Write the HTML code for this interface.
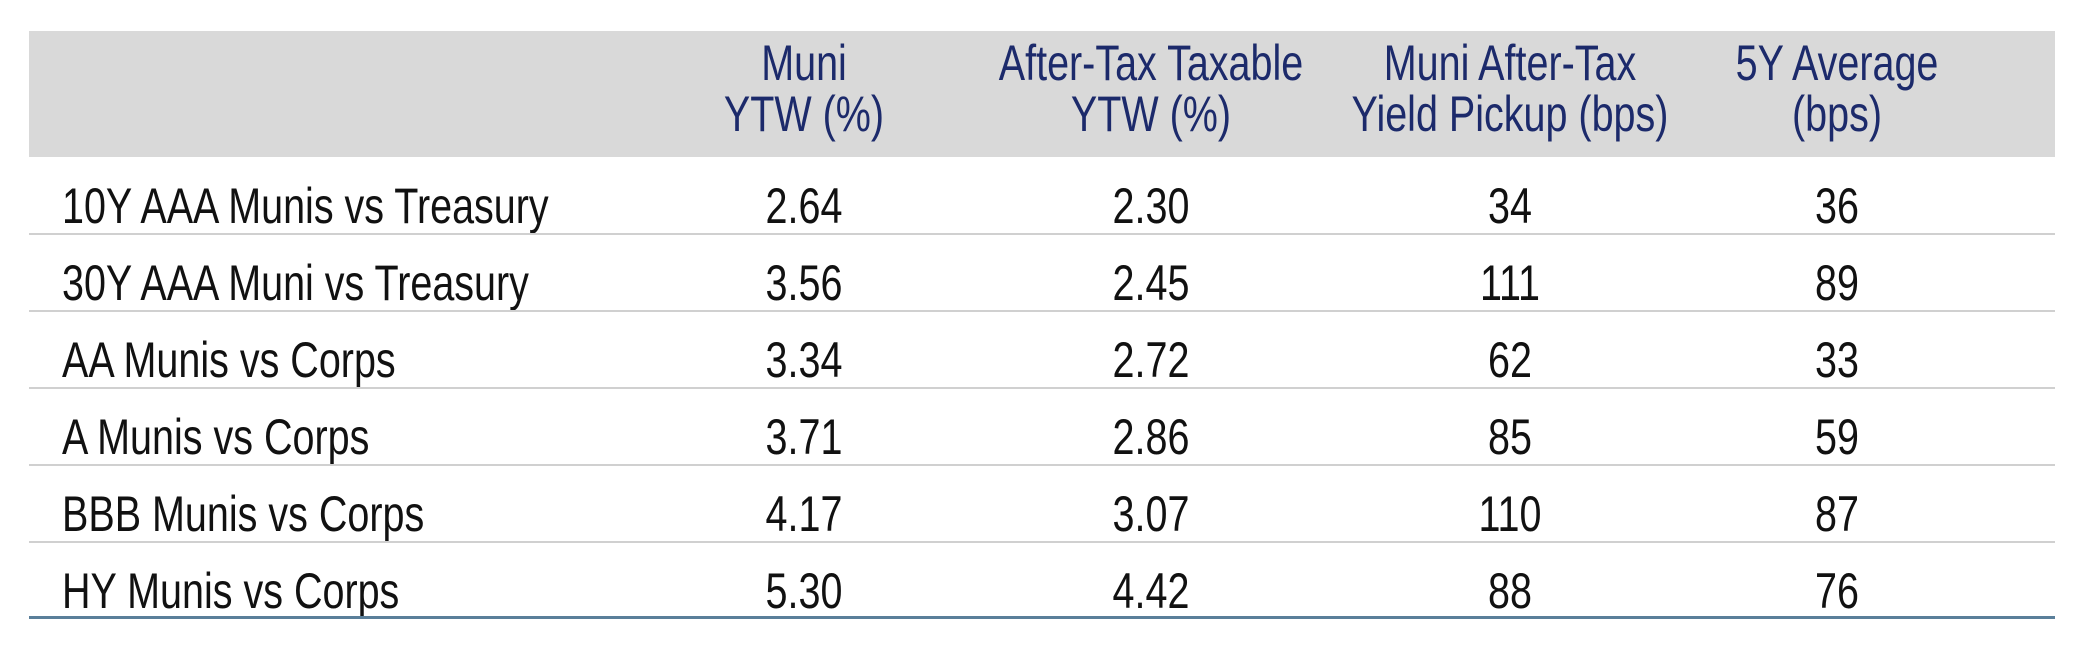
<!DOCTYPE html>
<html><head><meta charset="utf-8"><style>
body{margin:0;width:2084px;height:657px;background:#fff;position:relative;overflow:hidden;font-family:"Liberation Sans",sans-serif}
.abs{position:absolute}
.hdr{position:absolute;left:29px;top:31px;width:2026px;height:126px;background:#d9d9d9}
.line{position:absolute;left:29px;width:2026px;height:2px;background:#d0d0d0}
.t{position:absolute;font-size:50px;line-height:50px;white-space:nowrap;color:#111}
.c{transform:translateX(-50%) scaleX(0.79)}
.l{transform:scaleX(0.79);transform-origin:left center}
.h{color:#1c2a6b}
</style></head><body>
<div class="hdr"></div>
<div id="tbl"></div>
<div class="abs" style="left:29px;top:616px;width:2026px;height:3px;background:#5a7f9a"></div>
<script>
const headers=[["Muni","YTW (%)"],["After-Tax Taxable","YTW (%)"],["Muni After-Tax","Yield Pickup (bps)"],["5Y Average","(bps)"]];
const labels=["10Y AAA Munis vs Treasury","30Y AAA Muni vs Treasury","AA Munis vs Corps","A Munis vs Corps","BBB Munis vs Corps","HY Munis vs Corps"];
const muniYTW=["2.64","3.56","3.34","3.71","4.17","5.30"];
const taxableYTW=["2.30","2.45","2.72","2.86","3.07","4.42"];
const pickup=["34","111","62","85","110","88"];
const avg5y=["36","89","33","59","87","76"];
const colX=[804,1151,1510,1837];
const tbl=document.getElementById('tbl');
function add(txt,cls,x,y){const d=document.createElement('div');d.className='t '+cls;d.style.left=x+'px';d.style.top=y+'px';d.textContent=txt;tbl.appendChild(d);return d;}
headers.forEach((h,i)=>{h.forEach((s,j)=>{const d=add(s,'c h',colX[i],38+j*51);

});});
const rowTop=157,rowH=77;
labels.forEach((lab,r)=>{const y=rowTop+r*rowH+24;
const a=add(lab,'l',62,y);


[muniYTW,taxableYTW,pickup,avg5y].forEach((arr,c)=>{const d=add(arr[r],'c',colX[c],y);

});
if(r<labels.length-1){const ln=document.createElement('div');ln.className='line';ln.style.top=(rowTop+(r+1)*rowH-1)+'px';


tbl.appendChild(ln);}
});
</script>
</body></html>
